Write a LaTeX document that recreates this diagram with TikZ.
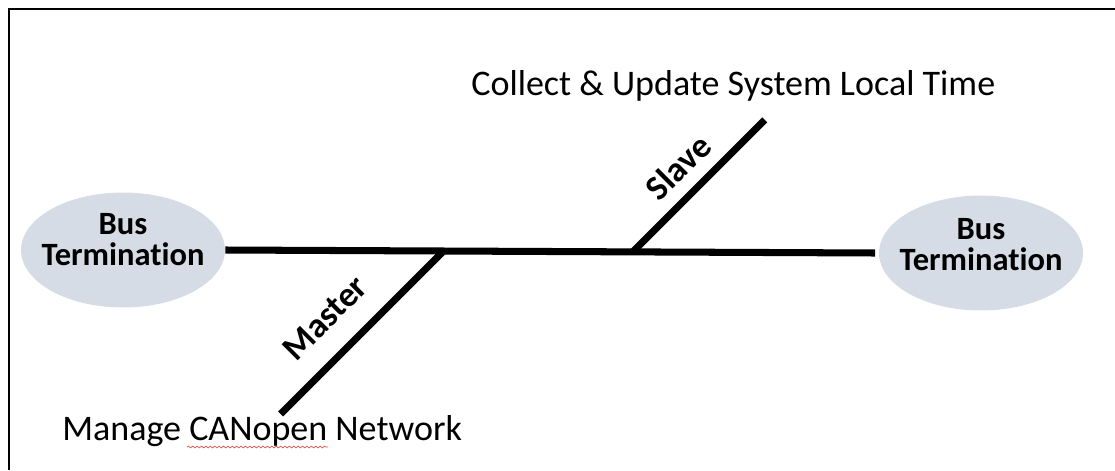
\documentclass[tikz,border=0pt]{standalone}
\usepackage{fontspec}
\setmainfont{Carlito}[Ligatures=NoCommon]
\usetikzlibrary{positioning, calc, shapes.geometric, decorations.pathmorphing}

\definecolor{termfill}{HTML}{D6DCE5}
\definecolor{spellred}{HTML}{E05050}

\begin{document}
\begin{tikzpicture}[
        x=0.02cm, y=-0.02cm,
        term/.style={ellipse, fill=termfill, minimum width=4.08cm, minimum height=2.3cm, inner sep=0pt},
        termtext/.style={align=center, inner sep=0pt, font=\bfseries\fontsize{18.5}{17.5}\selectfont},
        bus/.style={line width=4pt},
        tapname/.style={rotate=45, font=\bfseries\fontsize{20}{24}\selectfont},
        note/.style={anchor=base west, inner sep=0pt, font=\fontsize{20.5}{24}\selectfont}]

        \useasboundingbox (0,0) rectangle (1115,470);

        % frame
        \draw[line width=1.2pt] (9,470) -- (9,9) -- (1115,9);

        % terminations
        \node (termL) [term] at (123,250) {};
        \node (termR) [term] at (981,253) {};
        \node (termLtext) [termtext] at ([yshift=6pt]termL.center) {Bus\\Termination};
        \node (termRtext) [termtext] at ([yshift=5pt]termR.center) {Bus\\Termination};

        % bus and the two stations
        \draw[bus] (termL.east) -- ([xshift=-2pt]termR.west);
        \coordinate (mastTap) at ($(termL.east)!0.336!([xshift=-2pt]termR.west)$);
        \coordinate (slaveTap) at ($(termL.east)!0.627!([xshift=-2pt]termR.west)$);
        \draw[bus] (mastTap) -- ++(-163,163) coordinate (mastEnd);
        \draw[bus] (slaveTap) -- ++(132,-132) coordinate (slaveEnd);

        \node (master) [tapname] at (325,318) {Master};
        \node (slave) [tapname] at (678,167) {Slave};

        % tasks
        \node (slaveTask) [note] at (471,95) {Collect \& Update System Local Time};
        \node (mastTask) [note] at (62,440) {Manage CANopen Network};

        \draw[spellred, line width=0.4pt, decorate, decoration={snake, amplitude=0.5pt, segment length=2.5pt}]
            ($(mastTask.base west)+(125,7)$) -- ++(141,0);
\end{tikzpicture}
\end{document}
